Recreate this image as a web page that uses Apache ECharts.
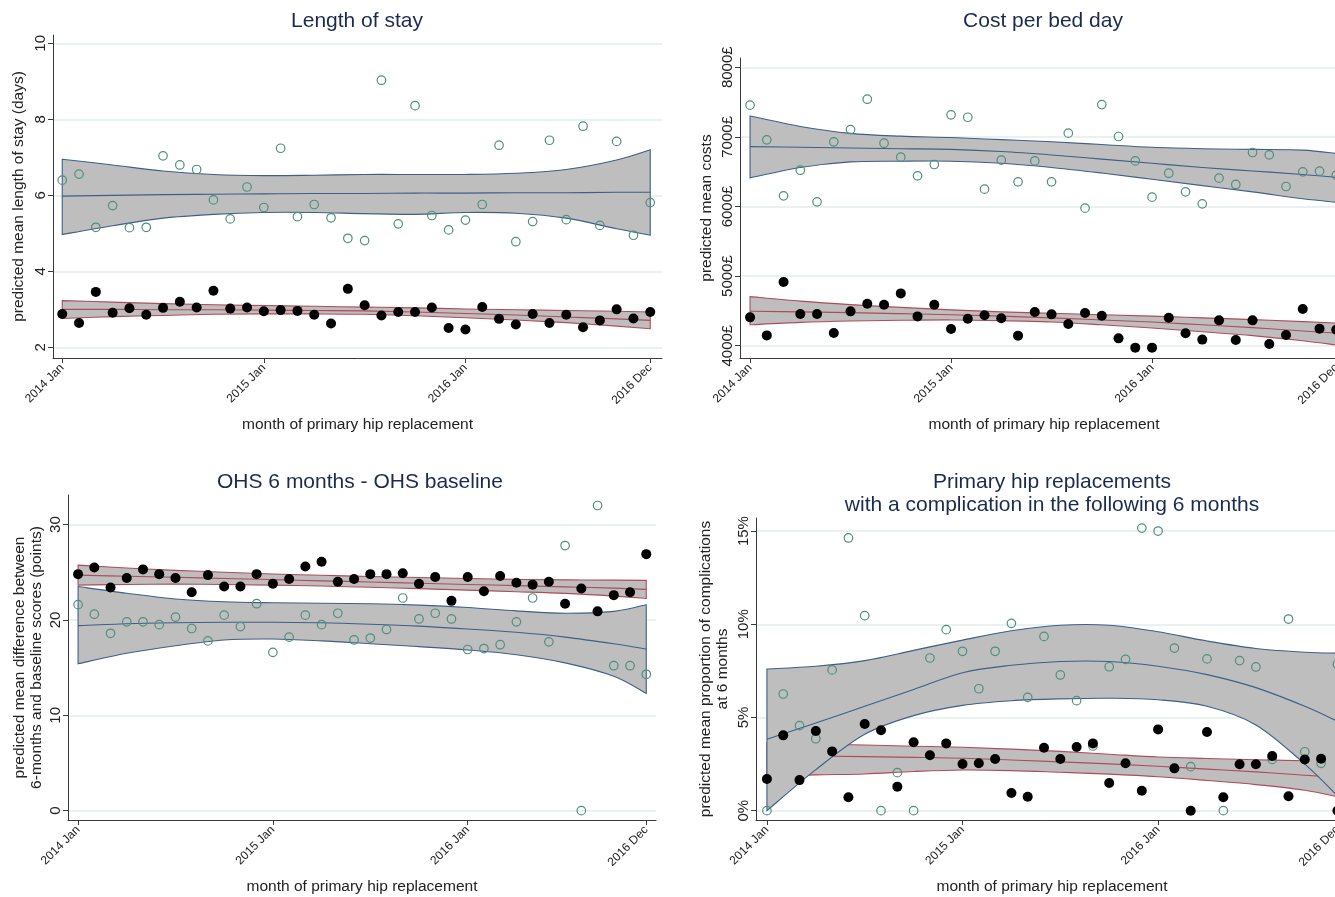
<!DOCTYPE html>
<html><head><meta charset="utf-8">
<script src="https://cdn.jsdelivr.net/npm/echarts@6/dist/echarts.min.js"></script>
<style>html,body{margin:0;padding:0;background:#fff}#c{width:1335px;height:897px}</style>
</head><body><div id="c"></div>
<script>
// ---------- axis ticks ----------
const tickMonths = [0, 12, 24, 35];
const tickLabels = ['2014 Jan', '2015 Jan', '2016 Jan', '2016 Dec'];
const knotMonths = [0, 3, 6, 9, 12, 15, 18, 21, 24, 27, 30, 33, 35];

// ---------- Panel 1: Length of stay ----------
const losHollow = [6.40,6.56,5.16,5.73,5.15,5.16,7.04,6.80,6.68,5.88,5.38,6.22,5.68,7.24,5.44,5.76,5.41,4.87,4.81,9.03,5.25,8.36,5.47,5.09,5.35,5.76,7.32,4.78,5.31,7.45,5.36,7.82,5.21,7.42,4.95,5.81];
const losBlack = [2.88,2.64,3.46,2.91,3.03,2.86,3.04,3.20,3.05,3.49,3.02,3.05,2.95,2.98,2.96,2.86,2.63,3.54,3.11,2.84,2.93,2.93,3.05,2.51,2.47,3.06,2.75,2.60,2.88,2.64,2.86,2.53,2.71,3.00,2.76,2.93];
const losHollowFit = [5.98,6.00,6.02,6.03,6.04,6.05,6.05,6.06,6.06,6.07,6.07,6.08,6.08];
const losHollowHi  = [6.95,6.80,6.64,6.55,6.52,6.53,6.55,6.55,6.55,6.58,6.68,6.93,7.20];
const losHollowLo  = [4.97,5.20,5.40,5.50,5.55,5.55,5.52,5.50,5.55,5.53,5.40,5.12,4.95];
const losBlackFit  = [3.00,3.00,2.99,2.99,2.98,2.97,2.96,2.93,2.89,2.85,2.80,2.75,2.71];
const losBlackHi   = [3.23,3.19,3.15,3.12,3.10,3.08,3.06,3.04,3.01,2.99,2.97,2.95,2.93];
const losBlackLo   = [2.76,2.81,2.84,2.87,2.88,2.88,2.87,2.83,2.78,2.72,2.65,2.56,2.49];

// ---------- Panel 2: Cost per bed day ----------
const costHollow = [7455,6957,6153,6521,6067,6928,7105,7541,6909,6708,6440,6603,7316,7282,6249,6665,6354,6655,6354,7053,5976,7464,7005,6655,6134,6478,6210,6038,6407,6316,6775,6742,6287,6497,6507,6450];
const costBlack = [4407,4148,4915,4456,4456,4183,4493,4603,4589,4751,4421,4589,4240,4388,4436,4393,4144,4484,4450,4312,4470,4431,4105,3972,3972,4402,4178,4087,4364,4082,4364,4025,4154,4527,4245,4230];
const costHollowFit = [6860,6850,6840,6830,6820,6790,6740,6680,6620,6560,6510,6460,6420];
const costHollowHi  = [7300,7150,7050,7010,6990,6960,6930,6890,6850,6830,6820,6810,6760];
const costHollowLo  = [6410,6560,6640,6650,6650,6620,6560,6480,6390,6300,6210,6110,6060];
const costBlackFit  = [4495,4485,4475,4460,4445,4425,4400,4370,4340,4300,4260,4210,4180];
const costBlackHi   = [4705,4640,4590,4550,4515,4485,4465,4445,4425,4400,4375,4345,4325];
const costBlackLo   = [4300,4335,4355,4365,4370,4360,4340,4300,4255,4200,4145,4070,4010];

// ---------- Panel 3: OHS 6 months - OHS baseline ----------
const ohsHollow = [21.6,20.6,18.6,19.8,19.8,19.5,20.3,19.1,17.8,20.5,19.3,21.7,16.6,18.2,20.5,19.5,20.7,17.9,18.1,19.0,22.3,20.1,20.7,20.1,16.9,17.0,17.4,19.8,22.3,17.7,27.8,0.0,32.0,15.2,15.2,14.3];
const ohsBlack = [24.8,25.5,23.4,24.4,25.3,24.8,24.4,22.9,24.7,23.5,23.5,24.8,23.8,24.3,25.6,26.1,24.0,24.3,24.8,24.8,24.9,23.8,24.5,22.0,24.5,23.0,24.6,23.9,23.7,24.0,21.7,23.3,20.9,22.6,22.9,26.9];
const ohsHollowFit = [19.4,19.6,19.7,19.75,19.75,19.7,19.55,19.35,19.05,18.7,18.2,17.5,16.95];
const ohsHollowHi  = [23.5,22.8,22.2,21.9,21.8,21.75,21.7,21.55,21.3,20.95,20.7,20.9,21.6];
const ohsHollowLo  = [15.4,16.5,17.3,17.9,18.0,17.8,17.5,17.2,16.85,16.35,15.5,14.1,12.3];
const ohsBlackFit  = [24.7,24.58,24.47,24.35,24.23,24.1,23.98,23.85,23.72,23.6,23.47,23.33,23.2];
const ohsBlackHi   = [25.75,25.45,25.2,25.0,24.82,24.68,24.56,24.45,24.34,24.25,24.2,24.17,24.15];
const ohsBlackLo   = [23.65,23.72,23.75,23.72,23.65,23.55,23.42,23.28,23.12,22.96,22.78,22.5,22.25];

// ---------- Panel 4: complications (percent) ----------
const compHollow = [0.0,6.26,4.56,3.86,7.55,14.63,10.46,0.0,2.04,0.0,8.19,9.71,8.55,6.54,8.55,10.05,6.08,9.35,7.28,5.90,3.47,7.72,8.12,15.16,15.0,8.72,2.36,8.14,0.0,8.05,7.71,2.75,10.28,3.16,2.54,7.85];
const compBlack = [1.70,4.04,1.64,4.27,3.18,0.72,4.65,4.31,1.29,3.67,2.97,3.61,2.50,2.54,2.77,0.95,0.75,3.38,2.77,3.42,3.61,1.48,2.54,1.07,4.36,2.27,0.0,4.22,0.72,2.49,2.49,2.93,0.77,2.75,2.79,0.0];
const compHollowFit = [3.83,4.7,5.6,6.5,7.4,7.8,8.0,8.0,7.75,7.3,6.6,5.6,4.8];
const compHollowHi  = [7.6,7.75,8.05,8.6,9.15,9.65,9.95,9.95,9.6,9.1,8.7,8.5,8.45];
const compHollowLo  = [0.0,2.2,4.1,5.1,5.65,5.9,6.0,6.03,5.95,5.6,4.6,2.5,0.8];
const compBlackFit  = [2.95,2.93,2.90,2.86,2.81,2.72,2.62,2.51,2.38,2.23,2.08,1.90,1.79];
const compBlackHi   = [3.65,3.58,3.52,3.46,3.40,3.30,3.18,3.03,2.88,2.80,2.73,2.68,2.68];
const compBlackLo   = [1.85,1.92,1.97,2.10,2.18,2.15,2.06,1.96,1.82,1.62,1.40,1.10,0.75];

// ---------- styles ----------
const FONT = '"Liberation Sans", Arial, sans-serif';
const BAND_FILL = '#bebebe';
const BLUE = '#3e5f86';
const RED = '#b24a5a';
const HOLLOW = '#4d8f7e';
const GRID_COLOR = '#e3eded';
const AXIS_COLOR = '#3a3a3a';

const chart = echarts.init(document.getElementById('c'), null, {renderer: 'canvas'});

const panels = [
  {title: 'Length of stay', titleX: 357, titleY: 10,
   grid: {left: 53, top: 35, width: 609, height: 323}, x: [-0.55, 35.7], y: [1.72, 10.22],
   yTicks: [2,4,6,8,10], yFmt: v => String(v), yName: 'predicted mean length of stay (days)', yGap: 26,
   hollow: losHollow, black: losBlack,
   hb: [losHollowFit, losHollowLo, losHollowHi], bb: [losBlackFit, losBlackLo, losBlackHi]},
  {title: 'Cost per bed day', titleX: 1043, titleY: 10,
   grid: {left: 740, top: 58, width: 608, height: 300}, x: [-0.6, 35.7], y: [3823, 8133],
   yTicks: [4000,5000,6000,7000,8000], yFmt: v => v + '£', yName: 'predicted mean costs', yGap: 25,
   hollow: costHollow, black: costBlack,
   hb: [costHollowFit, costHollowLo, costHollowHi], bb: [costBlackFit, costBlackLo, costBlackHi]},
  {title: 'OHS 6 months - OHS baseline', titleX: 360, titleY: 471,
   grid: {left: 68, top: 495, width: 588, height: 325}, x: [-0.62, 35.6], y: [-0.98, 33.1],
   yTicks: [0,10,20,30], yFmt: v => String(v),
   yName: 'predicted mean difference between\n6-months and baseline scores (points)', yGap: 23,
   hollow: ohsHollow, black: ohsBlack,
   hb: [ohsHollowFit, ohsHollowLo, ohsHollowHi], bb: [ohsBlackFit, ohsBlackLo, ohsBlackHi]},
  {title: 'Primary hip replacements\nwith a complication in the following 6 months', titleX: 1052, titleY: 471,
   grid: {left: 756, top: 518, width: 592, height: 302}, x: [-0.67, 35.65], y: [-0.5, 15.7],
   yTicks: [0,5,10,15], yFmt: v => v + '%',
   yName: 'predicted mean proportion of complications\nat 6 months', yGap: 25,
   hollow: compHollow, black: compBlack,
   hb: [compHollowFit, compHollowLo, compHollowHi], bb: [compBlackFit, compBlackLo, compBlackHi]}
];

// Smooth curve (Catmull-Rom rendered as cubic Bezier) through pixel points given by the axes
function fmtPt(p) { return p[0].toFixed(2) + ' ' + p[1].toFixed(2); }
function curvePath(p) {
  let s = '';
  for (let i = 0; i < p.length - 1; i++) {
    const p0 = p[Math.max(i - 1, 0)], p1 = p[i], p2 = p[i + 1], p3 = p[Math.min(i + 2, p.length - 1)];
    const c1 = [p1[0] + (p2[0] - p0[0]) / 6, p1[1] + (p2[1] - p0[1]) / 6];
    const c2 = [p2[0] - (p3[0] - p1[0]) / 6, p2[1] - (p3[1] - p1[1]) / 6];
    s += ' C ' + fmtPt(c1) + ' ' + fmtPt(c2) + ' ' + fmtPt(p2);
  }
  return s;
}

function bandSeries(gi, fit, lo, hi, edge) {
  return {
    type: 'custom', xAxisIndex: gi, yAxisIndex: gi, silent: true, animation: false, clip: true,
    data: [[knotMonths[0], fit[0]]],
    renderItem: function (params, api) {
      const P = a => knotMonths.map((m, k) => api.coord([m, a[k]]));
      const up = P(hi), dn = P(lo).reverse(), f = P(fit);
      const area = 'M ' + fmtPt(up[0]) + curvePath(up) + ' L ' + fmtPt(dn[0]) + curvePath(dn) + ' Z';
      const mid = 'M ' + fmtPt(f[0]) + curvePath(f);
      return {type: 'group', children: [
        {type: 'path', shape: {pathData: area}, style: {fill: BAND_FILL, stroke: edge, lineWidth: 1.1}},
        {type: 'path', shape: {pathData: mid}, style: {fill: 'none', stroke: edge, lineWidth: 1.1}}
      ]};
    }
  };
}

const titles = [], grids = [], xAxes = [], yAxes = [], series = [];
panels.forEach((p, gi) => {
  titles.push({text: p.title, left: p.titleX, top: p.titleY, textAlign: 'center', padding: 0,
    textStyle: {fontFamily: FONT, fontSize: 21, fontWeight: 'normal', color: '#1b2a4e', lineHeight: 23}});
  grids.push(Object.assign({containLabel: false, outerBoundsMode: 'none'}, p.grid));
  xAxes.push({type: 'value', gridIndex: gi, min: p.x[0], max: p.x[1],
    name: 'month of primary hip replacement', nameLocation: 'middle', nameGap: 59,
    nameTextStyle: {fontFamily: FONT, fontSize: 15.5, color: '#222'},
    axisLine: {show: true, onZero: false, lineStyle: {color: AXIS_COLOR, width: 1}},
    axisTick: {show: true, length: 5, customValues: tickMonths, lineStyle: {color: AXIS_COLOR}},
    axisLabel: {customValues: tickMonths, rotate: 45, margin: 8, fontFamily: FONT, fontSize: 12, color: '#222',
      formatter: v => tickLabels[tickMonths.indexOf(v)] || ''},
    splitLine: {show: false}});
  yAxes.push({type: 'value', gridIndex: gi, min: p.y[0], max: p.y[1],
    name: p.yName, nameLocation: 'middle', nameGap: p.yGap,
    nameTextStyle: {fontFamily: FONT, fontSize: 15.5, color: '#222', lineHeight: 17},
    axisLine: {show: true, onZero: false, lineStyle: {color: AXIS_COLOR, width: 1}},
    axisTick: {show: true, length: 5, customValues: p.yTicks, lineStyle: {color: AXIS_COLOR}},
    axisLabel: {customValues: p.yTicks, rotate: 90, margin: 5, fontFamily: FONT, fontSize: 15, color: '#222',
      formatter: p.yFmt},
    splitLine: {show: true, lineStyle: {color: GRID_COLOR, width: 1.5}}});
  // black-series CI first, hollow-series CI on top of it, then the points
  series.push(bandSeries(gi, p.bb[0], p.bb[1], p.bb[2], RED));
  series.push(bandSeries(gi, p.hb[0], p.hb[1], p.hb[2], BLUE));
  series.push({type: 'scatter', xAxisIndex: gi, yAxisIndex: gi, animation: false, symbol: 'circle', symbolSize: 8.5,
    data: p.hollow.map((v, i) => [i, v]),
    itemStyle: {color: 'rgba(0,0,0,0)', borderColor: HOLLOW, borderWidth: 1.2, opacity: 1}});
  series.push({type: 'scatter', xAxisIndex: gi, yAxisIndex: gi, animation: false, symbol: 'circle', symbolSize: 10,
    data: p.black.map((v, i) => [i, v]), itemStyle: {color: '#000', opacity: 1}});
});

chart.setOption({animation: false, backgroundColor: '#fff', title: titles, grid: grids,
  xAxis: xAxes, yAxis: yAxes, series: series});
</script>
</body></html>
